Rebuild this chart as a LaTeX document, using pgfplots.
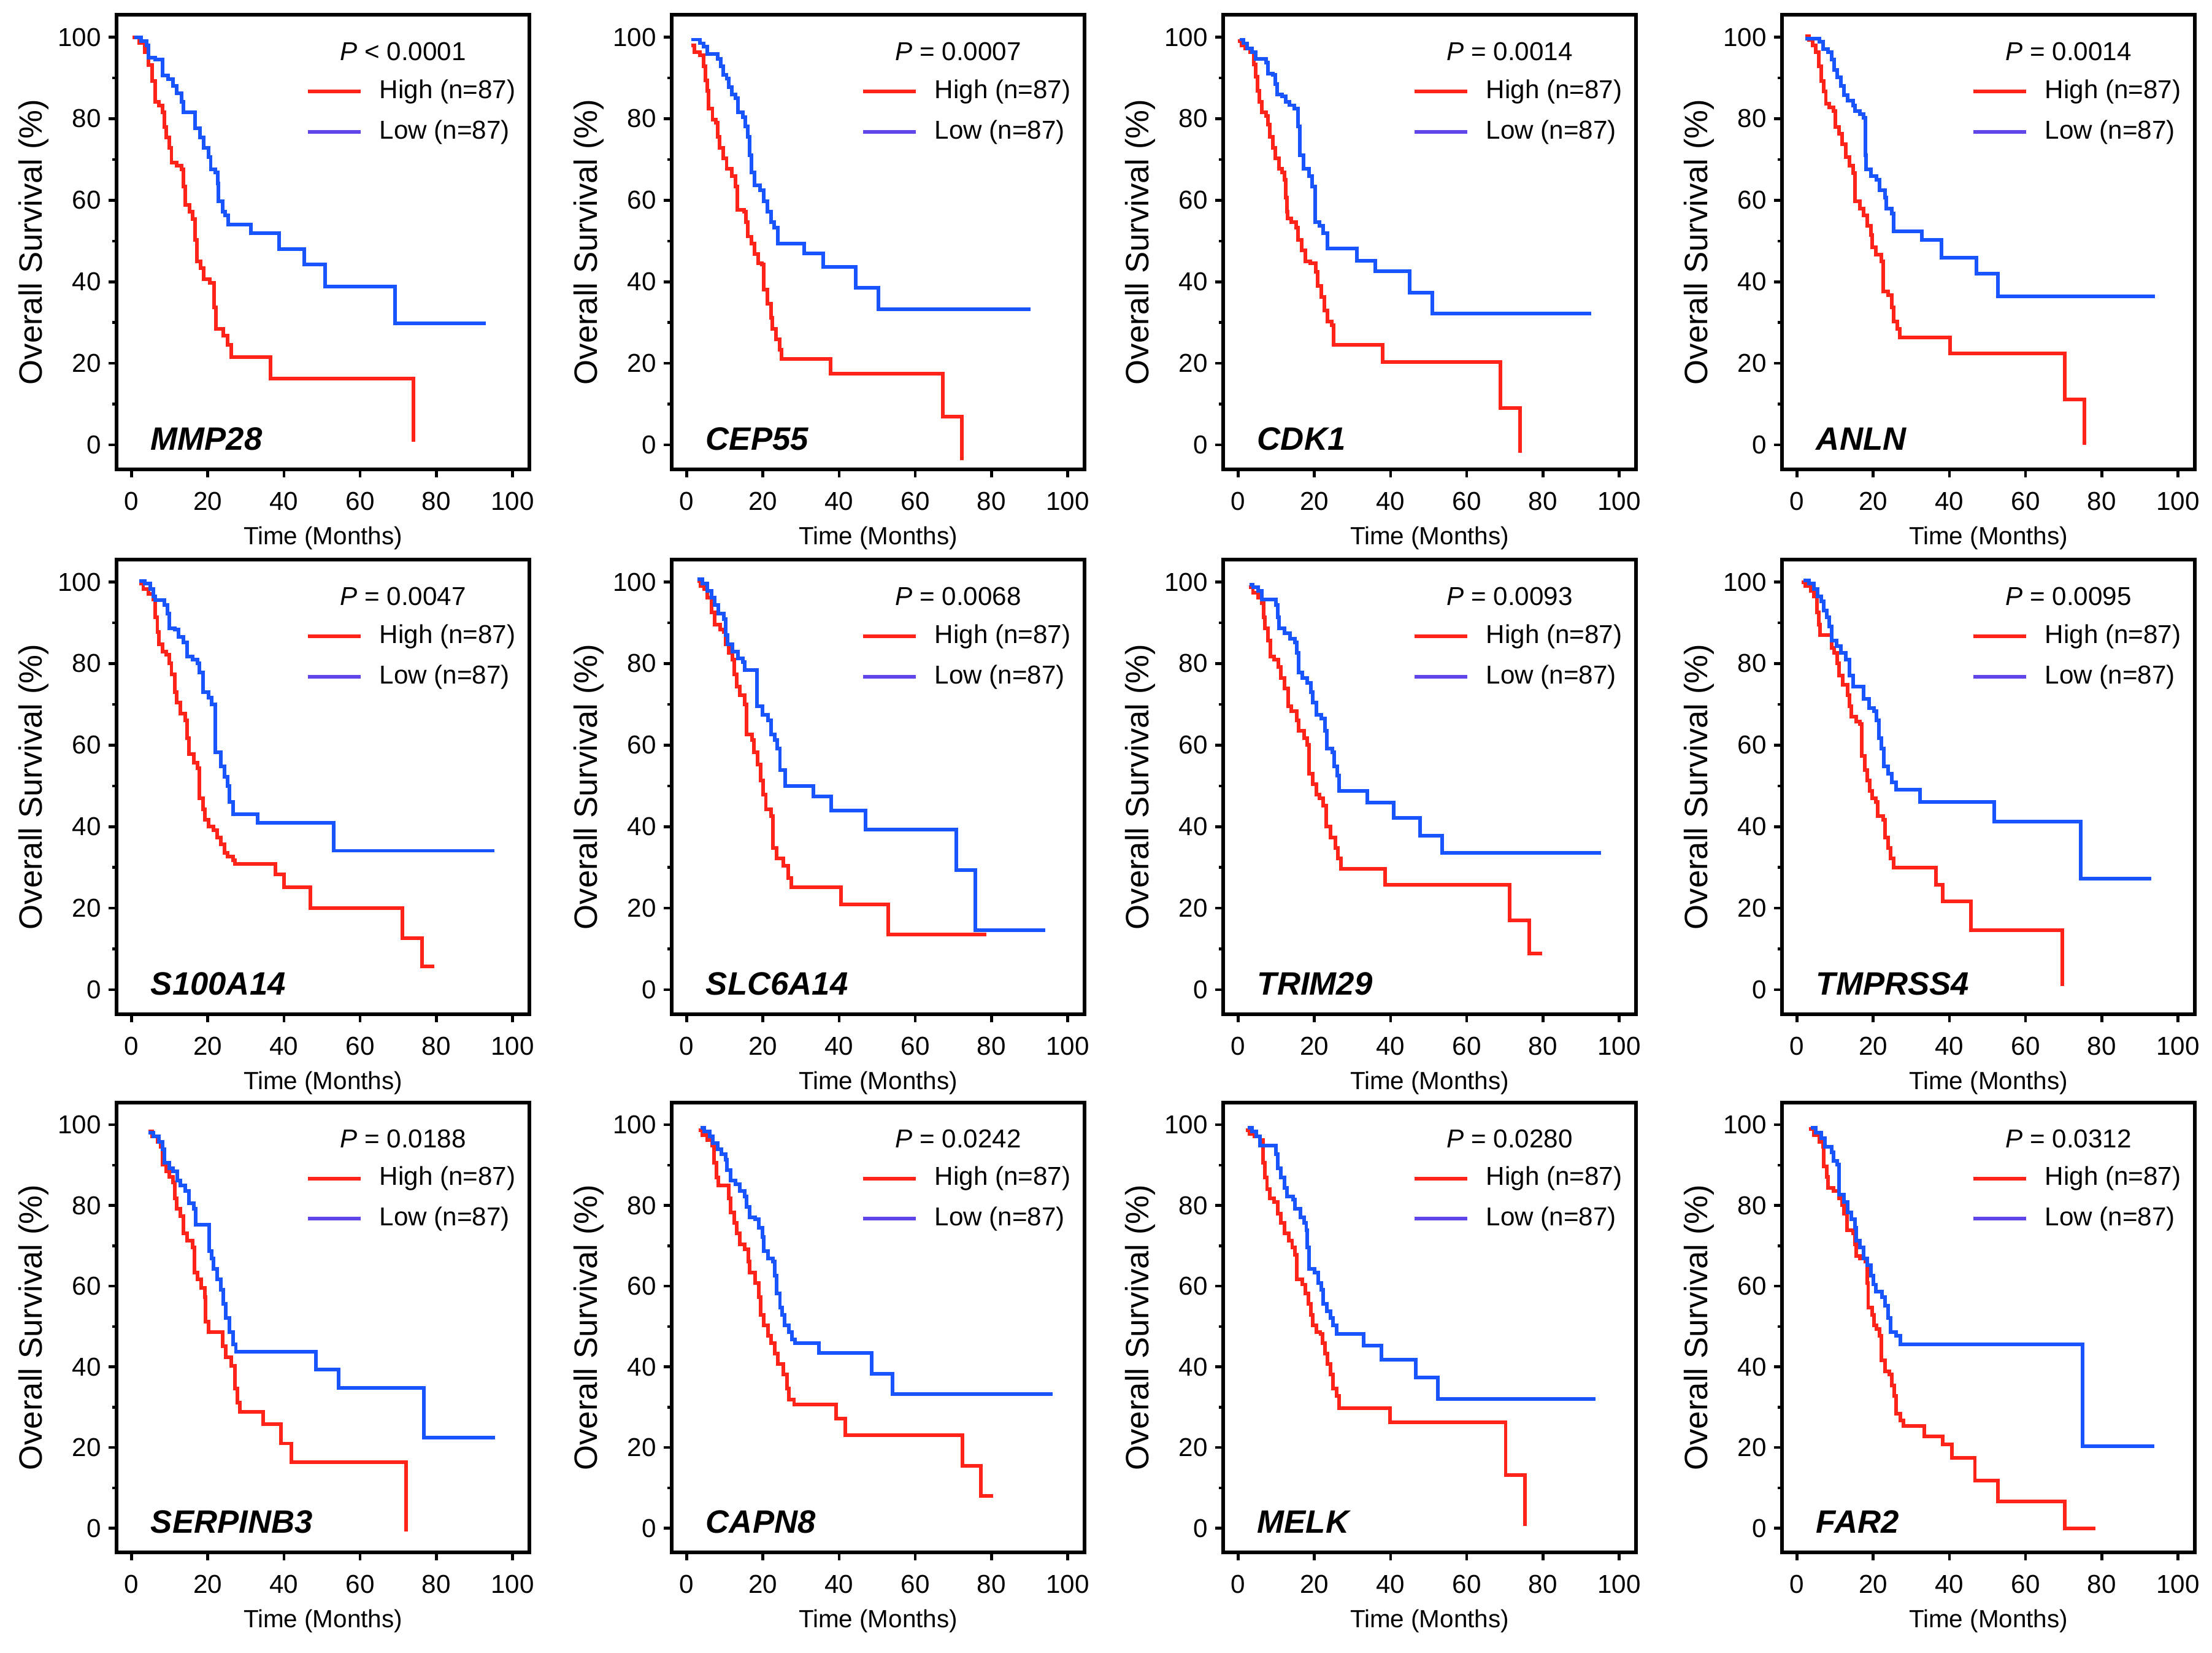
\documentclass[border=0pt]{standalone}
\usepackage{fontspec}
\setmainfont{Liberation Sans}
\usepackage{pgfplots}
\pgfplotsset{compat=1.18}
\definecolor{kmred}{RGB}{255,35,25}
\definecolor{kmblue}{RGB}{25,85,255}
\definecolor{kmlow}{RGB}{95,70,235}
\pgfplotsset{
 km/.style={
  width=6.73cm, height=7.41cm, scale only axis,
  xmin=-3.9, xmax=104.4, ymin=-6, ymax=105.5,
  xtick={0,20,...,100}, ytick={0,20,...,100},
  minor ytick={10,30,50,70,90},
  tick pos=left, tick align=outside,
  major tick length=0.13cm, minor tick length=0.07cm,
  every tick/.style={black, line width=1.3pt},
  axis line style={line width=1.7pt},
  /pgf/number format/assume math mode=true,
  ticklabel style={font=\fontsize{12}{14}\selectfont},
  xticklabel style={yshift=-0.12cm},
  xlabel={Time (Months)}, ylabel={Overall Survival (\%)},
  every axis x label/.style={at={(rel axis cs:0.5,0)}, yshift=-1.12cm, anchor=center, font=\fontsize{11.5}{13}\selectfont},
  every axis y label/.style={at={(rel axis cs:0,0.5)}, xshift=-1.35cm, rotate=90, anchor=center, font=\fontsize{15}{17}\selectfont},
  clip=false,
 },
 redc/.style={const plot, color=kmred, line width=1.7pt, no marks},
 bluec/.style={const plot, color=kmblue, line width=1.7pt, no marks},
}
\newcommand{\kmlegend}[2]{%
 \node[font=\fontsize{12}{14}\selectfont] at (rel axis cs:0.694,0.919) {#1};
 \draw[kmred, line width=1.7pt] (rel axis cs:0.463,0.831) -- (rel axis cs:0.592,0.831);
 \draw[kmlow, line width=1.7pt] (rel axis cs:0.463,0.742) -- (rel axis cs:0.592,0.742);
 \node[anchor=west, inner sep=0pt, font=\fontsize{12}{14}\selectfont] at (rel axis cs:0.636,0.831) {High (n=87)};
 \node[anchor=west, inner sep=0pt, font=\fontsize{12}{14}\selectfont] at (rel axis cs:0.636,0.742) {Low (n=87)};
 \node[anchor=west, inner sep=0pt, font=\fontsize{15}{17}\selectfont\bfseries\itshape] at (rel axis cs:0.082,0.0675) {#2};
}
\begin{document}
\begin{tikzpicture}
\path[use as bounding box] (0,0) rectangle (36.06cm,26.93cm);

% ---------------- Row 1 ----------------
\begin{axis}[km, at={(1.90cm,26.69cm)}, anchor=north west]
\addplot[redc] coordinates {(0.3,100)(2,98.5)(3.5,96.3)(4.5,93.2)(5.4,89.3)(6.3,84.1)(7.2,83.2)(8.2,81.5)(8.6,78)(9.1,75.4)(10,72.8)(10.5,69.3)(11.9,68.5)(13.2,67.6)(13.7,63.3)(14.2,58.9)(15.2,57.2)(16.1,55.4)(16.7,50.2)(17.2,45)(18.1,43.3)(19,40.7)(20.6,39.8)(21.7,33.7)(22.2,28.5)(24.1,26.8)(25.2,24.6)(26.2,21.5)(36.5,16.3)(74,0.7)};
\addplot[bluec] coordinates {(0.7,100)(2.6,99)(4,98)(4.5,95)(6.3,94.5)(8.2,90.6)(9.6,89.7)(10.9,88)(11.9,86.3)(13.2,84.1)(13.7,81.5)(16.7,77.6)(18,75.4)(19,72.8)(20.2,70.6)(20.8,67.6)(22,66.8)(22.6,64.1)(22.8,59.8)(24,57.2)(24.6,56.3)(25.4,54.1)(31.4,52)(38.8,48)(45.3,44.3)(50.8,38.9)(69.2,29.8)(93,29.8)};
\kmlegend{{\itshape P} < 0.0001}{MMP28}
\end{axis}

\begin{axis}[km, at={(10.95cm,26.69cm)}, anchor=north west]
\addplot[redc] coordinates {(1.2,98)(2.1,96.3)(3.5,95.5)(4.5,92.9)(4.9,89.4)(5.4,86.8)(5.8,82.4)(6.8,79.8)(7.7,79)(8.2,75.5)(8.6,72.9)(9.6,70.3)(10.5,67.7)(11.9,65.9)(12.8,63.3)(13.3,57.7)(15.1,57.2)(15.6,54.6)(16.1,51.1)(17,49.4)(17.9,46.8)(18.8,44.6)(19.7,44.2)(20.2,38.1)(21.2,34.6)(22.1,31.1)(22.5,28.5)(23.5,25.9)(24.4,23.3)(24.9,21.1)(37.8,17.4)(67.3,7)(72.2,-3.7)};
\addplot[bluec] coordinates {(1.2,99.4)(3.5,98.5)(4.5,97.7)(5.4,95.9)(8.2,94.6)(8.9,92.9)(9.6,90.7)(10.5,89.8)(11.1,87.7)(11.9,85.9)(12.8,85)(13.5,81.6)(14.7,80.3)(15.4,78.1)(16,75.5)(16.5,71.1)(17,66.8)(17.9,63.7)(19.3,62.4)(20.2,59.8)(21.2,57.2)(22.1,54.6)(23,53.3)(23.9,49.4)(30.9,47)(35.8,43.6)(44.3,38.5)(50.4,33.2)(90.3,33.2)};
\kmlegend{{\itshape P} = 0.0007}{CEP55}
\end{axis}

\begin{axis}[km, at={(19.94cm,26.69cm)}, anchor=north west]
\addplot[redc] coordinates {(0,99)(0.9,98)(1.9,97.2)(3.2,96.3)(4.2,93.3)(4.6,90.3)(5.1,86.8)(5.6,84.2)(6.3,81.6)(7.4,80.7)(7.9,78.5)(8.3,75.5)(9.1,72.9)(9.7,70.3)(10.7,67.7)(11.6,66.8)(12.2,65)(12.5,60.7)(12.8,57.2)(13,55.5)(13.9,54.6)(15.3,53.3)(15.8,50.3)(16.7,47.7)(17.6,45)(19,44.6)(20.4,42.4)(20.9,39)(21.8,36.3)(22.7,32.9)(23.4,30.3)(24.6,29.4)(25,24.6)(38,20.3)(68.8,9)(74,-1.9)};
\addplot[bluec] coordinates {(0.5,99.4)(1.4,98.5)(2.3,97.2)(3.7,96.3)(4.6,94.6)(7.4,93.7)(7.9,91.1)(9.1,90.7)(9.7,88.5)(10.2,85.9)(11.6,85.5)(12.5,84.2)(13.5,83.3)(14.8,82.4)(15.8,78.1)(16.2,71.1)(17.2,67.7)(18.6,65.9)(19.5,63.3)(20.2,54.6)(21.3,53.7)(22.3,52)(23.4,48.1)(31.1,45.2)(36,42.6)(45,37.4)(51,32.2)(92.6,32.2)};
\kmlegend{{\itshape P} = 0.0014}{CDK1}
\end{axis}

\begin{axis}[km, at={(29.05cm,26.69cm)}, anchor=north west]
\addplot[redc] coordinates {(2.2,100.2)(3.1,99.3)(4.1,98)(5,96.3)(5.7,92.8)(6.4,89.3)(7,86.7)(7.6,83.7)(8.5,82.8)(9.6,81.9)(10.1,78)(11,76.3)(11.9,73.7)(12.9,70.6)(13.8,68.5)(14.7,66.7)(15.2,59.8)(16.6,58)(17.5,56.3)(18.4,53.7)(19.4,51.5)(19.8,48.5)(20.7,46.7)(22.1,45)(22.6,37.6)(24,36.8)(24.9,33.7)(25.4,30.2)(26.3,28.5)(27,26.3)(40.2,22.4)(70.3,11.1)(75.4,0)};
\addplot[bluec] coordinates {(2.2,99.6)(5.9,98.9)(6.9,97.1)(8.2,96.3)(9.2,94.5)(9.8,91.9)(10.6,90.2)(11.5,88)(12.4,85.8)(13.3,84.5)(14.7,83.2)(15.2,81.9)(16.6,81.1)(17.5,80.2)(18,71.1)(18.2,67.6)(19.4,65.9)(20.9,65)(21.7,62.4)(23.1,60.6)(23.5,58)(24.9,56.7)(25.4,52.4)(32.8,50.2)(37.9,45.9)(47.1,42)(52.7,36.5)(93.9,36.5)};
\kmlegend{{\itshape P} = 0.0014}{ANLN}
\end{axis}

% ---------------- Row 2 ----------------
\begin{axis}[km, at={(1.90cm,17.81cm)}, anchor=north west]
\addplot[redc] coordinates {(2.1,99.6)(3.1,98.3)(4.4,97)(5.8,95.7)(6.3,91.3)(6.8,87.8)(7.2,84.8)(8.1,83)(9.1,82.2)(10,80)(10.5,77.4)(11.4,73)(11.9,70.4)(12.8,67.8)(14.2,66.1)(14.6,61.7)(15.1,57.8)(16.3,55.7)(17.4,54.3)(17.9,47)(18.8,44.3)(19.3,41.7)(20.2,40)(21.6,39.1)(22.5,37.4)(23.4,35.7)(24.4,33.5)(25.3,32.6)(26.7,31.7)(27.1,30.9)(37.8,28.3)(40.1,25.2)(47,20)(71.1,12.6)(76.2,5.7)(79.4,5.7)};
\addplot[bluec] coordinates {(2.1,100.2)(3.5,99.6)(4.9,98.3)(5.8,96.5)(6.3,95.5)(8.6,94.3)(9.5,92.2)(10,88.7)(11.4,88.3)(12.3,86.5)(13.7,85.2)(14.6,81.7)(16,80.9)(17.4,80)(17.9,77.8)(18.8,73)(20.2,71.7)(21.1,70)(22,58.3)(23.4,54.8)(24.4,52.2)(25.3,50)(25.7,46.1)(26.7,43)(33.1,40.9)(53.1,34.1)(95.2,34.1)};
\kmlegend{{\itshape P} = 0.0047}{S100A14}
\end{axis}

\begin{axis}[km, at={(10.95cm,17.81cm)}, anchor=north west]
\addplot[redc] coordinates {(2.8,100.2)(3.7,99.1)(4.6,98.3)(5.5,96.1)(6.5,92.6)(7.4,89.6)(8.8,88.3)(9.7,87.8)(10.2,84.8)(11.1,82.6)(12,80.9)(12.5,77.4)(13.1,74.3)(14,72.2)(15.2,70)(15.7,62.6)(17.1,61.3)(17.7,58.3)(18.7,55.2)(19.4,51.3)(20.1,47.8)(20.8,44.3)(22.2,42.6)(22.6,34.8)(23.6,32.2)(25.4,30.4)(26.6,27.4)(27.5,25.2)(40.5,20.9)(52.9,13.5)(78.7,13.5)};
\addplot[bluec] coordinates {(2.8,100.7)(4.2,99.6)(5.5,97.8)(6.5,96.1)(7.4,94.3)(8.3,92.2)(9.7,90.9)(10.2,87)(10.8,84.8)(12,83)(13.4,81.3)(14.8,80.4)(15.2,78.4)(18.5,69.6)(19.9,67.4)(21.3,66.1)(22.2,62.6)(23.1,61.3)(23.8,59.1)(24.5,53.9)(25.9,50)(33.3,47.4)(37.9,43.9)(47,39.3)(70.7,29.4)(75.8,14.6)(94.1,14.6)};
\kmlegend{{\itshape P} = 0.0068}{SLC6A14}
\end{axis}

\begin{axis}[km, at={(19.94cm,17.81cm)}, anchor=north west]
\addplot[redc] coordinates {(2.8,98.7)(3.9,97.4)(5.3,96.1)(6.2,94.8)(6.7,91.3)(7.1,88.7)(7.8,85.7)(8.5,81.7)(9.4,80.9)(10.5,79.1)(11.3,76.5)(12.2,73.9)(13.1,69.6)(14,68.3)(15.4,66.1)(15.9,63.5)(17.3,61.7)(18.2,60)(18.7,53)(19.6,50.4)(20.5,47.8)(21.4,47)(22.4,45.2)(23.1,40)(24.2,37.4)(25.6,34.8)(26.2,32.2)(27,29.6)(38.5,25.7)(71.3,17)(76.4,8.9)(79.7,8.9)};
\addplot[bluec] coordinates {(3,99.3)(3.9,98.7)(5.3,97.8)(6.2,95.7)(9.9,94.3)(10.4,91.3)(10.8,88.7)(12.2,87.4)(13.6,86.1)(15,85.2)(15.4,82.6)(15.9,77.8)(16.8,76.5)(18.2,75.2)(19.1,73)(19.6,70.4)(20.5,67.4)(21.9,66.5)(22.8,63.5)(23.3,59.1)(24.7,58.3)(25.2,54.8)(26.1,52.6)(26.5,48.7)(33.9,45.9)(40.9,42.2)(47.8,37.8)(53.6,33.5)(95.2,33.5)};
\kmlegend{{\itshape P} = 0.0093}{TRIM29}
\end{axis}

\begin{axis}[km, at={(29.05cm,17.81cm)}, anchor=north west]
\addplot[redc] coordinates {(1.3,100)(2.2,99.1)(3.6,97.8)(4.5,96.5)(5.2,92.6)(5.7,89.6)(6.1,87)(9.2,83.9)(9.8,82.6)(10.6,80)(11,77)(12,74.8)(13.3,72.2)(13.8,69.6)(14.3,67)(15.6,65.7)(16.6,65.2)(17,57.4)(17.8,53.9)(18.4,51.3)(19.1,48.7)(19.8,47)(20.7,46.1)(21.2,42.6)(22.6,41.7)(23.1,37.4)(24,34.8)(24.6,32.2)(25.4,30)(36.5,25.7)(38.3,21.7)(45.7,14.6)(69.6,0.9)};
\addplot[bluec] coordinates {(1.8,100.4)(3.1,99.6)(4.5,98.3)(5.5,96.5)(6.4,95.2)(7,93)(7.8,91.3)(8.5,89.1)(9.2,85.7)(10.4,84.3)(11.5,82.6)(12.9,80.9)(13.8,77)(14.7,74.3)(17.5,71.3)(18.9,69.1)(20.3,68.3)(20.9,66.1)(21.5,61.7)(22.1,59.1)(22.8,54.8)(24,53)(24.9,50.9)(26.1,49.1)(32.3,46.1)(51.8,41.3)(74.4,27.2)(93,27.2)};
\kmlegend{{\itshape P} = 0.0095}{TMPRSS4}
\end{axis}

% ---------------- Row 3 ----------------
\begin{axis}[km, height=7.33cm, at={(1.90cm,8.96cm)}, anchor=north west]
\addplot[redc] coordinates {(4.4,98.3)(5.4,97.1)(6.8,95.8)(7.7,94.5)(8.1,90.1)(9.1,88.4)(10,87.1)(10.9,85.7)(11.4,81.8)(11.9,79.2)(12.8,77.4)(13.7,73.1)(14.6,71.3)(16,69.6)(16.5,63.4)(17.4,61.7)(18.3,59.5)(19.3,57.3)(19.4,51.2)(20.2,48.6)(23.9,45.1)(24.8,42.4)(26.2,40.2)(27.1,34.6)(27.8,31.1)(28.5,28.9)(34.5,25.8)(39.2,21)(41.9,16.4)(72,-0.9)};
\addplot[bluec] coordinates {(4.4,98)(5.8,97.1)(7.2,95.8)(8.1,94)(8.6,90.6)(10,89.2)(10.9,88.4)(12,86.2)(12.8,84.9)(14.2,83.6)(15.1,80.5)(16.3,79.2)(16.9,75.2)(20.4,68.7)(21.1,66.9)(21.6,64.3)(22.5,61.7)(23.4,59.1)(24.1,55.6)(24.8,52.1)(25.7,48.6)(26.7,45.5)(27.4,43.7)(48.4,39.4)(54.3,34.7)(76.7,22.5)(95.4,22.5)};
\kmlegend{{\itshape P} = 0.0188}{SERPINB3}
\end{axis}

\begin{axis}[km, height=7.33cm, at={(10.95cm,8.96cm)}, anchor=north west]
\addplot[redc] coordinates {(3.2,98.6)(4.2,97.5)(5.5,96.2)(6.7,94.9)(7.2,90.6)(7.9,87)(8.3,84.9)(11.1,81.8)(11.6,78.3)(12.5,75.7)(13.1,73.1)(13.9,70.4)(15.2,69.1)(16.2,66.1)(16.6,63.4)(18,60.8)(18.9,57.3)(19.4,52.9)(20.3,50.3)(21.3,47.7)(22.2,45.9)(23.1,43.3)(24,40.7)(25.4,38.1)(26.3,34.6)(26.9,31.9)(28.2,30.6)(39.3,27.1)(41.6,23)(72.3,15.5)(77.2,8)(80.4,8)};
\addplot[bluec] coordinates {(3.7,99.3)(4.6,98.4)(6,97.1)(6.9,95.4)(8.1,94)(9.2,92.7)(10.2,91.4)(10.6,88.8)(11.6,86.2)(12.9,85.3)(13.9,83.6)(15.2,82.2)(15.7,79.6)(16.6,77)(18,76.6)(18.9,74.4)(19.9,72.2)(20.3,68.7)(21.3,66.9)(22.6,66.1)(23.1,62.6)(23.6,58.2)(24.5,54.7)(25.1,52.9)(25.7,50.3)(26.8,48.6)(27.7,46.8)(28.5,45.8)(34.7,43.5)(48.5,38.3)(54.1,33.2)(96.1,33.2)};
\kmlegend{{\itshape P} = 0.0242}{CAPN8}
\end{axis}

\begin{axis}[km, height=7.33cm, at={(19.94cm,8.96cm)}, anchor=north west]
\addplot[redc] coordinates {(2,98.6)(3,97.7)(4.3,97.1)(5.7,96.2)(6.5,90.6)(7.1,87)(7.6,84)(8.3,81.8)(9.4,80.9)(10.4,77.9)(11.3,75.7)(12.2,73.1)(13.3,71.3)(14.2,69.6)(15,67.8)(15.4,61.7)(16.8,60.4)(17.7,58.2)(18.5,55.6)(19.1,52.9)(19.6,50.3)(20.5,48.6)(21.6,48.1)(22.2,45.9)(22.8,43.3)(23.5,40.7)(24.2,38.1)(24.9,34.6)(25.9,32.8)(26.5,29.7)(39.9,26.2)(70.2,13.1)(75.2,0.6)};
\addplot[bluec] coordinates {(2.5,99.3)(3.7,98.4)(4.8,97.1)(5.7,94.9)(9.9,92.7)(10.4,89.2)(11.3,87)(12.2,84.4)(12.9,82.2)(14.5,81.4)(14.9,79.2)(16.4,77)(17.3,75.7)(17.9,73.9)(18.2,69.6)(18.7,64.3)(20.1,63.4)(21,60.8)(21.8,59.1)(22.4,55.6)(23.3,53.8)(24.2,52.1)(24.9,50.3)(25.9,48.1)(33,45.2)(37.6,41.8)(46.6,37.4)(52.4,32.1)(93.7,32.1)};
\kmlegend{{\itshape P} = 0.0280}{MELK}
\end{axis}

\begin{axis}[km, height=7.33cm, at={(29.05cm,8.96cm)}, anchor=north west]
\addplot[redc] coordinates {(3.1,98.9)(4.5,97.5)(5.9,95.8)(6.9,94.5)(7,89.7)(7.8,87.1)(8.2,84.4)(9.6,83.6)(11,81.8)(11.9,80.1)(12.4,77.9)(13.1,73.9)(14.7,73.1)(15.2,70.4)(15.6,67.4)(16.6,66.9)(18,66.1)(18.4,60.8)(18.7,54.7)(19.8,52.9)(20.3,50.3)(20.9,49.4)(21.7,47.7)(22.1,41.6)(23.1,38.9)(24.3,38.1)(24.9,35.4)(25.6,32.8)(26.1,28.4)(27.2,26.7)(27.9,25.4)(33.5,22.7)(38.3,20.7)(40.6,17.5)(46.7,11.8)(52.7,6.6)(70.3,0)(78.3,0)};
\addplot[bluec] coordinates {(3.6,99.3)(5,98)(6.4,96.7)(7.3,94.5)(9.2,93.2)(9.6,91)(10.6,90.1)(11,82.7)(12.4,80.9)(13.3,78.3)(14.3,76.6)(15.2,74.4)(15.6,71.3)(16.6,69.6)(17.5,66.9)(18.4,65.2)(19.4,62.6)(20,60.4)(20.7,58.6)(22.4,57.3)(23.1,55.1)(24,52.1)(24.6,48.6)(26.1,47.7)(27.2,45.5)(74.9,20.3)(93.7,20.3)};
\kmlegend{{\itshape P} = 0.0312}{FAR2}
\end{axis}
\end{tikzpicture}
\end{document}
